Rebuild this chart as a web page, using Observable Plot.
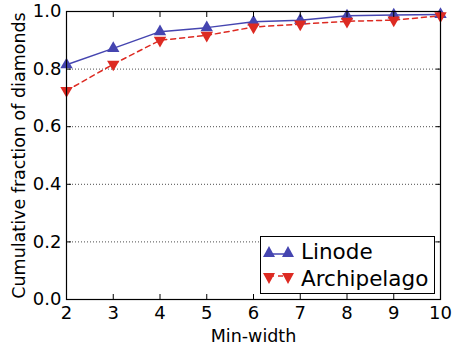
<!DOCTYPE html>
<html><head><meta charset="utf-8">
<script src="https://cdn.jsdelivr.net/npm/d3@7"></script>
<script src="https://cdn.jsdelivr.net/npm/@observablehq/plot@0.6"></script>
<style>
body{margin:0;background:#fff;font-family:"DejaVu Sans",sans-serif;}
#wrap{position:relative;width:462px;height:347px;}
#legend{position:absolute;left:260px;top:236px;width:175px;height:58px;border:1px solid #000;background:#fff;box-sizing:border-box;font-family:"DejaVu Sans",sans-serif;font-size:21.5px;color:#000;}
#legend .row{position:absolute;left:0;height:27px;display:flex;align-items:center;white-space:nowrap;}
#legend svg{margin-left:1px;margin-right:5px;}
</style></head>
<body><div id="wrap"></div>
<script>
const minWidth = [2,3,4,5,6,7,8,9,10];
const linode = [0.815,0.872,0.930,0.944,0.964,0.970,0.985,0.988,0.990];
const archipelago = [0.725,0.817,0.900,0.917,0.946,0.956,0.966,0.970,0.985];
const seriesNames = ["Linode","Archipelago"];
const colors = {Linode:"#4545b0", Archipelago:"#dd2a22"};
const yTicks = [0,0.2,0.4,0.6,0.8,1.0];

const data = [];
minWidth.forEach((w,i)=>{
  data.push({w, v:linode[i], s:"Linode"});
  data.push({w, v:archipelago[i], s:"Archipelago"});
});
const lin = data.filter(d=>d.s==="Linode");
const arc = data.filter(d=>d.s==="Archipelago");

const chart = Plot.plot({
  width:462, height:347,
  marginLeft:66, marginRight:22, marginTop:11, marginBottom:48,
  style:{fontFamily:"DejaVu Sans, sans-serif", fontSize:"18px", background:"#fff", color:"#000"},
  x:{domain:[2,10]},
  y:{domain:[0,1]},
  marks:[
    Plot.gridY(yTicks.slice(1,-1), {stroke:"#000", strokeOpacity:0.7, strokeDasharray:"1,2", strokeWidth:1}),
    Plot.line(lin, {x:"w", y:"v", stroke:colors.Linode, strokeWidth:1.5}),
    Plot.line(arc, {x:"w", y:"v", stroke:colors.Archipelago, strokeWidth:1.5, strokeDasharray:"5,4"}),
    Plot.dot(lin, {x:"w", y:"v", symbol:"triangle", r:4.6, fill:colors.Linode, stroke:"none"}),
    Plot.dot(arc, {x:"w", y:"v", symbol:"triangle", r:4.6, rotate:180, fill:colors.Archipelago, stroke:"none"}),
    Plot.axisX(minWidth, {anchor:"bottom", tickSize:-5, tickPadding:12, tickFormat:d=>String(d), label:null, fontSize:18}),
    Plot.axisX({anchor:"bottom", ticks:[], label:"Min-width", labelAnchor:"center", labelArrow:"none", labelOffset:42, fontSize:17.5}),
    Plot.axisX(minWidth, {anchor:"top", tickSize:-5, tickFormat:()=>"", label:null}),
    Plot.axisY(yTicks, {anchor:"left", tickSize:-5, tickPadding:10, tickFormat:d=>d.toFixed(1), label:null, fontSize:18}),
    Plot.axisY({anchor:"left", ticks:[], label:"Cumulative fraction of diamonds", labelAnchor:"center", labelArrow:"none", labelOffset:54, fontSize:17.5}),
    Plot.axisY(yTicks, {anchor:"right", tickSize:-5, tickFormat:()=>"", label:null}),
    Plot.frame({stroke:"#000", strokeWidth:1.2})
  ]
});
document.getElementById("wrap").appendChild(chart);

const legend = document.createElement("div");
legend.id = "legend";
seriesNames.forEach((name,i)=>{
  const row = document.createElement("div");
  row.className="row";
  row.style.top = (1 + i*27) + "px";
  const c = colors[name];
  const up = name==="Linode";
  const tri = (cx)=> up ? `${cx-6},19 ${cx+6},19 ${cx},8` : `${cx-6},8 ${cx+6},8 ${cx},19`;
  row.innerHTML = `<svg width="34" height="27"><line x1="7" x2="26" y1="${up?16:11}" y2="${up?16:11}" stroke="${c}" stroke-width="1.5" ${up?"":'stroke-dasharray="5,4"'}/><polygon points="${tri(7)}" fill="${c}"/><polygon points="${tri(26)}" fill="${c}"/></svg><span>${name}</span>`;
  legend.appendChild(row);
});
document.getElementById("wrap").appendChild(legend);
</script></body></html>
